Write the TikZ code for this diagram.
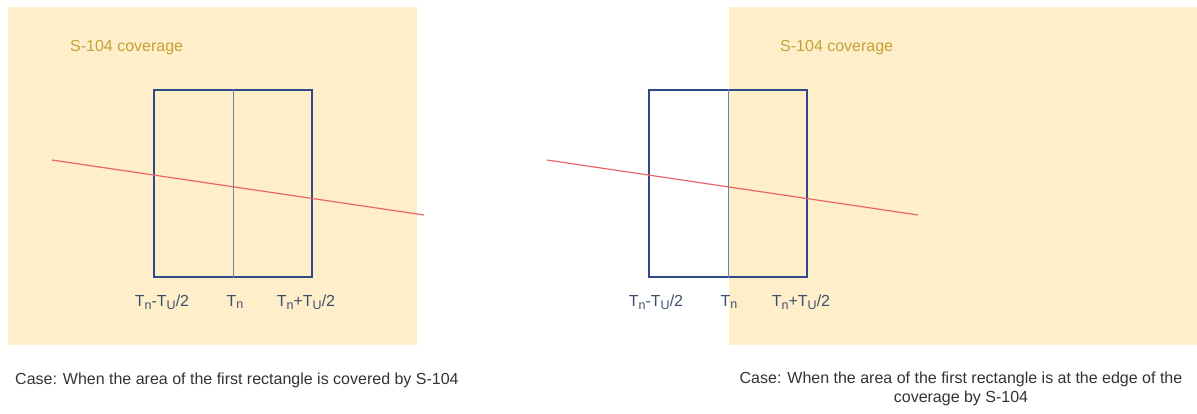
\documentclass[tikz,border=0pt]{standalone}
\usepackage{fontspec}
\setmainfont{Liberation Sans}
\usepackage{xcolor}
\usepackage{tikz}
\usetikzlibrary{positioning}

\definecolor{covfill}{HTML}{FEEFCA}
\definecolor{covtext}{HTML}{C4A236}
\definecolor{boxblue}{HTML}{2F4A86}
\definecolor{midblue}{HTML}{6A84B0}
\definecolor{trackred}{HTML}{E8666B}
\definecolor{lbltext}{HTML}{3E4F6E}

% subscript a bit larger than \textsubscript
\newcommand{\lowsub}[1]{\raisebox{-0.35ex}{\fontsize{12.5}{13}\selectfont #1}}

\begin{document}
\begin{tikzpicture}[
  x=1pt, y=-1pt,
  cover/.style={fill=covfill, draw=none},
  covlabel/.style={font=\fontsize{16}{19}\selectfont, text=covtext, inner sep=0pt},
  box/.style={draw=boxblue, line width=1.8pt, minimum width=158pt,
    minimum height=187pt, inner sep=0pt},
  midline/.style={draw=midblue, line width=0.8pt},
  track/.style={draw=trackred, line width=1.2pt},
  tlabel/.style={font=\fontsize{16}{19}\selectfont, text=lbltext, inner sep=0pt},
  caption/.style={font=\fontsize{16}{19}\selectfont, text=black!80,
    inner sep=0pt, align=center}
]
\useasboundingbox (0,0) rectangle (1197,414);

% left case
\fill[cover] (8,7) rectangle (417,345);
\node[covlabel, anchor=west] (covL) at (70,48) {S-104 coverage};
\node[box] (boxL) at (233,183.5) {};
\draw[midline] (boxL.north) -- (boxL.south);
\coordinate (trkLa) at (52,160);
\coordinate (trkLb) at (424,215);
\draw[track] (trkLa) -- (trkLb);
\node[tlabel] (loL) at (162,302) {T\lowsub{n}-T\lowsub{U}/2};
\node[tlabel] (tnL) at (235,302) {T\lowsub{n}};
\node[tlabel] (hiL) at (306,302) {T\lowsub{n}+T\lowsub{U}/2};
\node[caption, anchor=west] (capL) at (15,380)
  {Case: When the area of the first rectangle is covered by S-104};

% right case
\fill[cover] (729,7) rectangle (1197,345);
\node[covlabel, anchor=west] (covR) at (780,48) {S-104 coverage};
\node[box] (boxR) at (728,183.5) {};
\draw[midline] (boxR.north) -- (boxR.south);
\coordinate (trkRa) at (547,160);
\coordinate (trkRb) at (918,215);
\draw[track] (trkRa) -- (trkRb);
\node[tlabel] (loR) at (656,302) {T\lowsub{n}-T\lowsub{U}/2};
\node[tlabel] (tnR) at (729,302) {T\lowsub{n}};
\node[tlabel] (hiR) at (801,302) {T\lowsub{n}+T\lowsub{U}/2};
\node[caption] (capR) at (961,389)
  {Case: When the area of the first rectangle is at the edge of the\\
   coverage by S-104};

\end{tikzpicture}
\end{document}
